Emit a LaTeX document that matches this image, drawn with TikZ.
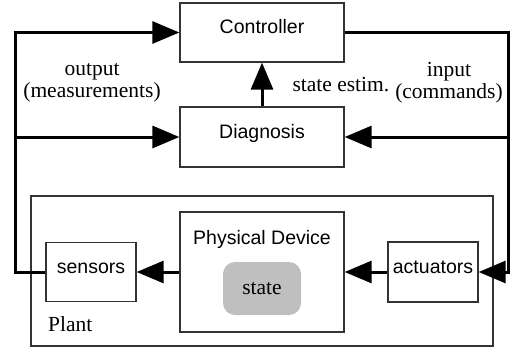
\documentclass[tikz,border=0pt]{standalone}
\usepackage{fontspec}
\setmainfont{Liberation Serif}
\setsansfont{Liberation Sans}
\usepackage{tikz}
\usetikzlibrary{arrows.meta}
\tikzstyle{rec} = [rectangle, minimum width=164pt, minimum height=60pt, draw=black!80, line width=1.3pt, font=\sffamily\fontsize{19.5}{22}\selectfont, text height=14pt, text depth=12pt, inner sep=0pt]
\tikzstyle{small} = [rec, minimum width=90pt]
\tikzstyle{arrow} = [line width=3pt, -{Triangle[length=27pt,width=22pt]}]
\tikzstyle{lbl} = [font=\fontsize{21.5}{22}\selectfont, align=center, inner sep=0pt]

\begin{document}
\begin{tikzpicture}[x=1pt, y=-1pt, node distance=104.5pt]
        \useasboundingbox (0,0) rectangle (516,351);
        \node (control) [rec, minimum height=59pt] at (262,32.5) {Controller};
        \node (diag) [rec, below of=control] {Diagnosis};
        \node (phys) [rec, below of=diag, node distance=135pt, minimum height=120pt, text depth=70pt] {Physical Device};
        \node (state) [below of=phys, node distance=16.5pt, rectangle, rounded corners=12pt, fill=gray!50, minimum width=78pt, minimum height=53pt, font=\fontsize{21.5}{22}\selectfont] {state};
        \node (sensors) [small, left of=phys, node distance=171pt, minimum height=59pt] {sensors};
        \node (actuators) [small, right of=phys, node distance=171pt] {actuators};
        \node (plant) [rectangle, draw=black!80, line width=1.3pt, minimum width=462pt, minimum height=150pt] at (262,271) {};
        \node (plantlbl) [lbl, anchor=base west] at (48,331) {Plant};
        \node (output) [lbl] at (92,83) {output\\(measurements)};
        \node (input) [lbl] at (449,83) {input\\(commands)};
        \coordinate (ltop) at (15,32.5);
        \coordinate (rtop) at (508,32.5);
        \draw [arrow] (sensors.west) -| (ltop) -- (control.west);
        \draw [arrow] (diag.west -| ltop) -- (diag.west);
        \draw [arrow] (control.east) -- (rtop) |- (actuators.east);
        \draw [arrow] (diag.east -| rtop) -- (diag.east);
        \draw [arrow] (diag) -- node (estim) [lbl, anchor=west, xshift=29pt] {state estim.} (control);
        \draw [arrow] (phys) -- (sensors);
        \draw [arrow] (actuators) -- (phys);
    \end{tikzpicture}
\end{document}
